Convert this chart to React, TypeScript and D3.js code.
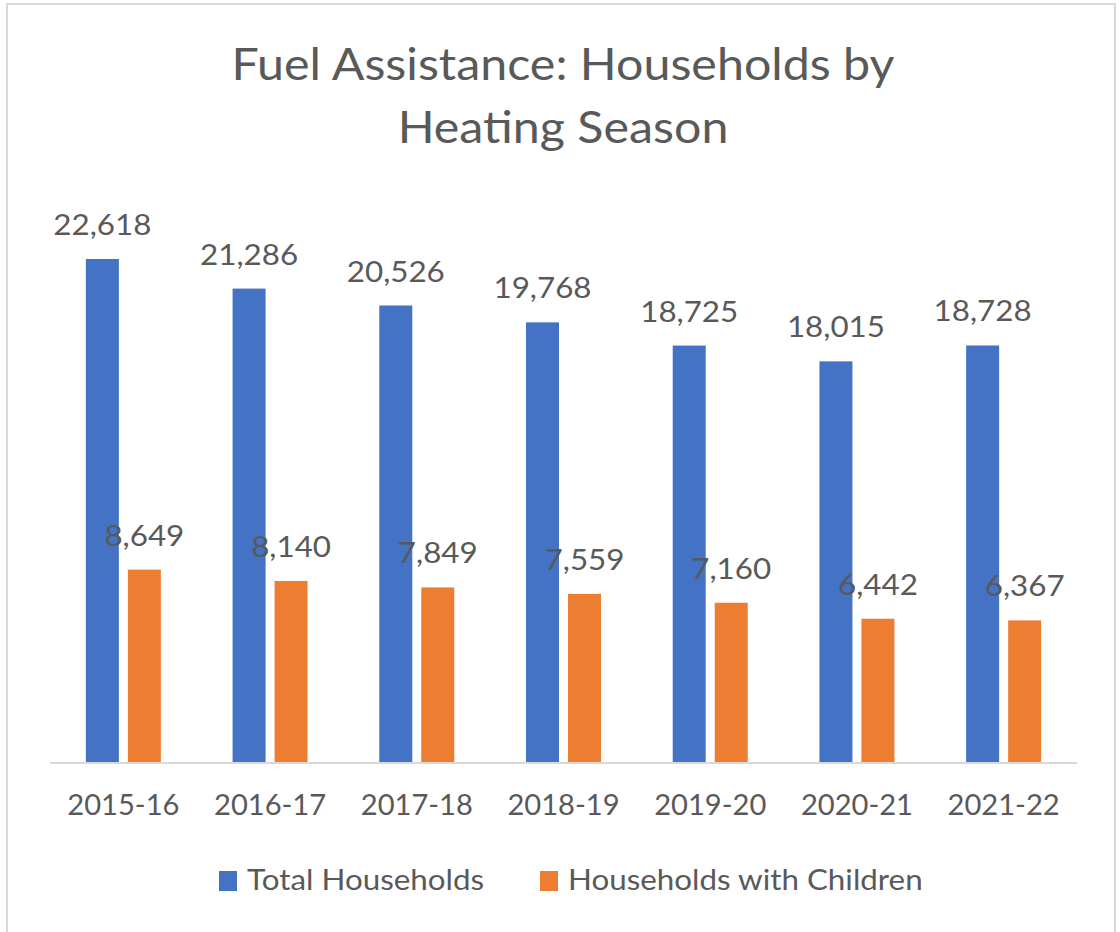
import React from "react";
import * as d3 from "d3";

const seasons = ["2015-16", "2016-17", "2017-18", "2018-19", "2019-20", "2020-21", "2021-22"];
const totalHouseholds = [22618, 21286, 20526, 19768, 18725, 18015, 18728];
const householdsWithChildren = [8649, 8140, 7849, 7559, 7160, 6442, 6367];
const seriesNames = ["Total Households", "Households with Children"];
const seriesColors = ["#4472C4", "#ED7D31"];
const titleLines = ["Fuel Assistance: Households by", "Heating Season"];

const W = 1120;
const H = 932;
const plot = { left: 50, right: 1077, top: 206, bottom: 762 };
const groupWidth = 75;
const FONT = "Lato, 'Open Sans', sans-serif";
const TEXT = "#595959";

const fmt = d3.format(",");

// the source picture is a little wide, so text gets a horizontal stretch
function Stretched({ x, y, size, sx = 1.12, children, anchor = "middle" }: any) {
  return (
    <text
      transform={`translate(${x},${y}) scale(${sx},1)`}
      textAnchor={anchor}
      fontFamily={FONT}
      fontSize={size}
      fill={TEXT}
    >
      {children}
    </text>
  );
}

export default function App() {
  const x0 = d3.scaleBand<string>().domain(seasons).range([plot.left, plot.right]);
  const x1 = d3
    .scaleBand<string>()
    .domain(seriesNames)
    .range([0, groupWidth])
    .paddingInner(9 / 42);
  const y = d3.scaleLinear().domain([0, 25000]).range([plot.bottom, plot.top]);

  const series = [totalHouseholds, householdsWithChildren];

  return (
    <svg
      width={W}
      height={H}
      style={{ position: "absolute", left: 0, top: 0, background: "#fff" }}
    >
      <rect x={7} y={4} width={1108} height={1000} fill="#fff" stroke="#D9D9D9" strokeWidth={2} />

      {titleLines.map((t, i) => (
        <Stretched key={t} x={563} y={80 + i * 63} size={45} sx={1.075}>
          {t}
        </Stretched>
      ))}

      {seasons.map((s, i) => {
        const gx = x0(s)! + (x0.bandwidth() - groupWidth) / 2;
        return (
          <g key={s}>
            {series.map((vals, k) => {
              const bx = gx + x1(seriesNames[k])!;
              const top = y(vals[i]);
              return (
                <g key={k}>
                  <rect
                    x={bx}
                    y={top}
                    width={x1.bandwidth()}
                    height={y(0) - top}
                    fill={seriesColors[k]}
                  />
                  <Stretched x={bx + x1.bandwidth() / 2} y={top - 24} size={28}>
                    {fmt(vals[i])}
                  </Stretched>
                </g>
              );
            })}
            <Stretched x={x0(s)! + x0.bandwidth() / 2} y={815} size={28} sx={1.04}>
              {s}
            </Stretched>
          </g>
        );
      })}

      <line x1={plot.left} x2={plot.right} y1={y(0) + 1} y2={y(0) + 1} stroke="#D9D9D9" strokeWidth={2} />

      {seriesNames.map((name, k) => {
        const lx = [219, 540][k];
        return (
          <g key={name}>
            <rect x={lx} y={871} width={18} height={20} fill={seriesColors[k]} />
            <Stretched x={lx + 28} y={890} size={28} anchor="start">
              {name}
            </Stretched>
          </g>
        );
      })}
    </svg>
  );
}
